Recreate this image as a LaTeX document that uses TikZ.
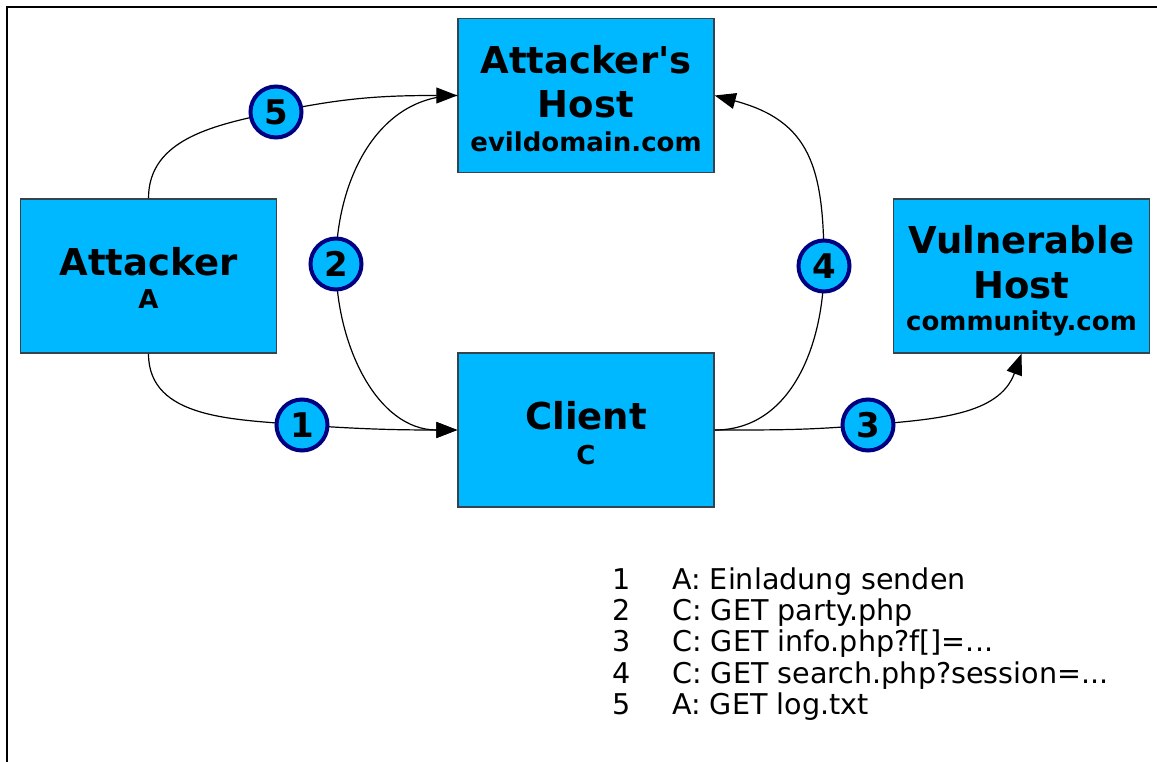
\documentclass[tikz,border=0pt]{standalone}
\usepackage{fontspec}
\setmainfont{DejaVu Sans}[Ligatures=TeXOff]
\usetikzlibrary{arrows.meta}
\definecolor{boxfill}{HTML}{00B8FF}
\definecolor{boxline}{HTML}{34434C}
\definecolor{navyline}{HTML}{000080}
\begin{document}
\begin{tikzpicture}[x=1pt,y=1pt,
  hostbox/.style={rectangle, draw=boxline, line width=1.5pt, fill=boxfill,
    minimum width=256pt, minimum height=154pt, inner sep=0pt},
  bigtext/.style={anchor=base, inner sep=0pt, font=\bfseries\fontsize{37}{37}\selectfont},
  smalltext/.style={anchor=base, inner sep=0pt, font=\bfseries\fontsize{26}{26}\selectfont},
  numcircle/.style={circle, draw=navyline, line width=4pt, fill=boxfill,
    minimum size=51pt, inner sep=0pt, font=\bfseries\fontsize{34}{34}\selectfont},
  conn/.style={line width=1.2pt, draw=black},
  arr/.style={conn, -{Triangle[length=21pt,width=16pt]}},
  legendline/.style={anchor=base west, inner sep=0pt, font=\fontsize{28.6}{31}\selectfont}
]
\useasboundingbox (0,0) rectangle (1157,-762);
\draw[line width=2pt] (7,-762) -- (7,-7) -- (1157,-7);

% boxes
\node[hostbox] (attacker) at (148.5,-276) {};
\node[hostbox] (ahost) at (586,-95.5) {};
\node[hostbox] (vhost) at (1021.5,-276) {};
\node[hostbox] (client) at (586,-430) {};

% box texts
\node[bigtext] (attackerT) at (148.5,-276) {Attacker};
\node[smalltext] (attackerS) at (148.5,-308.5) {A};
\node[bigtext] (ahostT1) at (586,-74) {Attacker's};
\node[bigtext] (ahostT2) at (586,-118) {Host};
\node[smalltext] (ahostS) at (586,-152) {evildomain.com};
\node[bigtext] (vhostT1) at (1021.5,-254) {Vulnerable};
\node[bigtext] (vhostT2) at (1021.5,-298.5) {Host};
\node[smalltext] (vhostS) at (1021.5,-330) {community.com};
\node[bigtext] (clientT) at (586,-429) {Client};
\node[smalltext] (clientS) at (586,-464.5) {C};

% circle positions
\coordinate (p1) at (302,-425);
\coordinate (p2) at (336,-264);
\coordinate (p3) at (868,-425);
\coordinate (p4) at (824,-266);
\coordinate (p5) at (276,-112);

% connectors
\draw[arr] (attacker.north) to[out=90,in=192] (p5) to[out=12,in=180] (ahost.west);
\draw[arr] (attacker.south) to[out=-90,in=175] (p1) to[out=-4,in=180] (client.west);
\draw[arr] (ahost.west) to[out=180,in=90] (p2) to[out=-90,in=180] (client.west);
\draw[arr] (client.east) to[out=0,in=185] (p3) to[out=5,in=-110] (vhost.south);
\draw[arr] (client.east) to[out=0,in=-90] (p4) to[out=90,in=-15,looseness=1.25] (ahost.east);

% numbered circles
\node[numcircle] (n1) at (p1) {1};
\node[numcircle] (n2) at (p2) {2};
\node[numcircle] (n3) at (p3) {3};
\node[numcircle] (n4) at (p4) {4};
\node[numcircle] (n5) at (p5) {5};

% legend
\node[legendline] (l1) at (612,-589) {\makebox[60pt][l]{1}A: Einladung senden};
\node[legendline] (l2) at (612,-620.3) {\makebox[60pt][l]{2}C: GET party.php};
\node[legendline] (l3) at (612,-651.6) {\makebox[60pt][l]{3}C: GET info.php?f[]=...};
\node[legendline] (l4) at (612,-683) {\makebox[60pt][l]{4}C: GET search.php?session=...};
\node[legendline] (l5) at (612,-714.3) {\makebox[60pt][l]{5}A: GET log.txt};
\end{tikzpicture}
\end{document}
